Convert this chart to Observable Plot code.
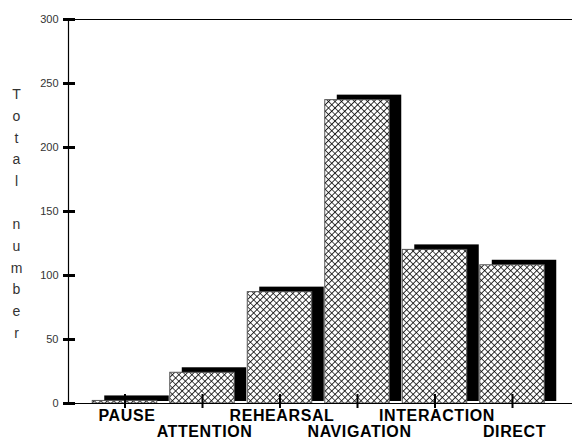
<!DOCTYPE html>
<html>
<head>
<meta charset="utf-8">
<script src="https://cdn.jsdelivr.net/npm/d3@7"></script>
<script src="https://cdn.jsdelivr.net/npm/@observablehq/plot@0.6"></script>
<style>
  html, body { margin: 0; padding: 0; background: #fff; }
  #chart svg { display: block; }
  #chart svg [aria-label="x-axis tick label"] text { letter-spacing: 0.6px; }
</style>
</head>
<body>
<div id="chart"></div>
<script>
// Data
const categories = ["PAUSE", "ATTENTION", "REHEARSAL", "NAVIGATION", "INTERACTION", "DIRECT"];
const totals = [2, 24, 87, 237, 120, 108];
const yTicks = [0, 50, 100, 150, 200, 250, 300];
const yLabel = "Total number";

const data = categories.map((c, i) => ({i, category: c, total: totals[i]}));
const idx = categories.map((c, i) => i);
const row1 = idx.filter(i => i % 2 === 0);
const row2 = idx.filter(i => i % 2 === 1);

const half = 0.416;          // half bar width in category units
const xDomain = [-0.729, 5.774];
const font = "'Liberation Sans', Arial, Helvetica, sans-serif";

const stacked = yLabel.split("").map(ch => ch === " " ? "\u00a0" : ch).join("\n");

const chart = Plot.plot({
  width: 572,
  height: 439,
  marginTop: 19,
  marginBottom: 36,
  marginLeft: 68,
  marginRight: 0,
  style: {fontFamily: font, background: "#fff", overflow: "visible"},
  x: {domain: xDomain, axis: null},
  y: {domain: [0, 300], axis: null, label: null},
  marks: [
    // shadow (3D depth)
    Plot.rectY(data, {
      x1: d => d.i - half, x2: d => d.i + half, y1: 0, y2: "total",
      fill: "#000", dx: 12, dy: -5, insetBottom: -3
    }),
    // hatched front
    Plot.rectY(data, {
      x1: d => d.i - half, x2: d => d.i + half, y1: 0, y2: "total",
      fill: "url(#xhatch)", stroke: "#555", strokeWidth: 1
    }),
    // frame lines
    Plot.ruleY([0, 300], {stroke: "#000", strokeWidth: 1.2}),
    Plot.ruleX([xDomain[0]], {stroke: "#000", strokeWidth: 1.2}),
    // y axis
    Plot.axisY({
      ticks: yTicks, tickSize: 12, dx: 7, tickPadding: 5, label: null,
      strokeWidth: 3, stroke: "#000", fontSize: 11, fill: "#333"
    }),
    // x tick marks crossing the baseline
    Plot.axisX(idx, {tickSize: 14, dy: -9, strokeWidth: 2, stroke: "#000", tickFormat: () => "", label: null}),
    // x labels in two staggered rows
    Plot.axisX(row1, {tickSize: 0, tickPadding: 6, dx: 2, tickFormat: i => categories[i], label: null,
      fontSize: 16, fontWeight: "bold", fill: "#000"}),
    Plot.axisX(row2, {tickSize: 0, tickPadding: 22, dx: 2, tickFormat: i => categories[i], label: null,
      fontSize: 16, fontWeight: "bold", fill: "#000"}),
    // stacked y label
    Plot.text([stacked], {
      frameAnchor: "left", dx: -52, dy: 0, textAnchor: "middle",
      lineHeight: 1.55, fontSize: 14, fill: "#333"
    })
  ]
});

d3.select(chart).insert("defs", ":first-child").html(
  `<pattern id="xhatch" patternUnits="userSpaceOnUse" width="4.6" height="4.6" patternTransform="rotate(45)">
     <rect width="4.6" height="4.6" fill="#fff"/>
     <path d="M0,0V4.6M0,0H4.6" stroke="#000" stroke-width="1.6"/>
   </pattern>`
);

document.getElementById("chart").appendChild(chart);
</script>
</body>
</html>
